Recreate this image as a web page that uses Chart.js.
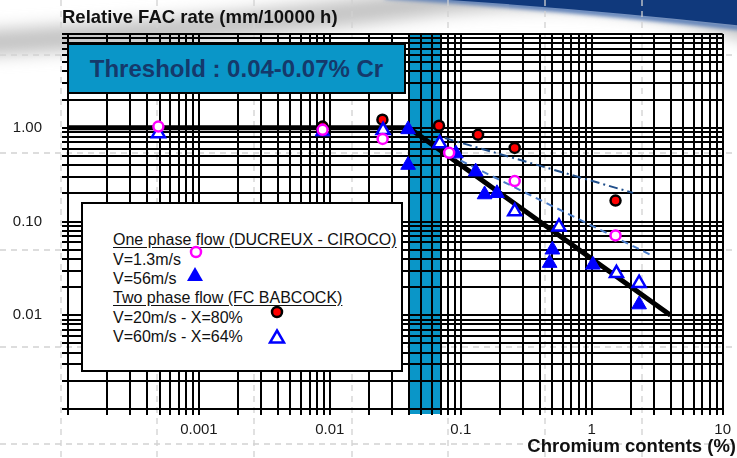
<!DOCTYPE html>
<html>
<head>
<meta charset="utf-8">
<script src="https://cdn.jsdelivr.net/npm/chart.js@4/dist/chart.umd.min.js"></script>
<style>
  html, body { margin: 0; padding: 0; background: #ffffff; }
  #wrap { position: relative; width: 737px; height: 458px; overflow: hidden; font-family: "Liberation Sans", Arial, sans-serif; }
  #bg { position: absolute; left: 0; top: 0; }
  #c { position: absolute; left: 0; top: 0; }
  .ytitle { position: absolute; left: 62px; top: 6px; font-weight: bold; font-size: 18.5px; color: #111; white-space: nowrap; line-height: 22px; }
  .xtitle { position: absolute; right: 1px; top: 435px; font-weight: bold; font-size: 18.5px; color: #111; white-space: nowrap; line-height: 22px; }
  .threshold { position: absolute; left: 67px; top: 43px; width: 335px; height: 47px; background: #0a96c8; border: 2px solid #000;
               display: flex; align-items: center; justify-content: center; font-weight: bold; font-size: 24px; color: #15396b; white-space: nowrap; }
  .legend { position: absolute; left: 81px; top: 202px; width: 318px; height: 166px; background: #fff; border: 2px solid #000; }
  .lg { position: absolute; left: 113px; font-size: 16px; color: #111; white-space: nowrap; line-height: 19px; }
  .lg.h { text-decoration: underline; text-underline-offset: 2px; }
  .mk { position: absolute; }
</style>
</head>
<body>
<div id="wrap">
  <svg id="bg" width="737" height="458" xmlns="http://www.w3.org/2000/svg">
    <defs>
      <filter id="soft" x="-20%" y="-200%" width="140%" height="500%"><feGaussianBlur stdDeviation="8"/></filter>
      <filter id="edge" x="-10%" y="-200%" width="120%" height="500%"><feGaussianBlur stdDeviation="2"/></filter>
    </defs>
    <!-- grey sweep across the top of the slide -->
    <path d="M-30,44 Q220,30 420,4 T770,36" stroke="#c4c4c4" stroke-width="26" fill="none" filter="url(#soft)"/>
    <!-- navy corner band -->
    <path d="M385,-4 Q560,7 745,28" stroke="#4d74b4" stroke-width="5" fill="none" filter="url(#edge)"/>
    <path d="M385,-4 Q560,6 745,26 L745,-4 Z" fill="#10397c"/>
    <!-- faint dashed guide grid of the slide -->
    <g stroke="#d2d2d2" stroke-width="1.3" stroke-dasharray="6 5">
      <line x1="61" y1="0" x2="61" y2="458"/>
      <line x1="157" y1="0" x2="157" y2="458"/>
      <line x1="254" y1="0" x2="254" y2="458"/>
      <line x1="352" y1="0" x2="352" y2="458"/>
      <line x1="448" y1="0" x2="448" y2="458"/>
      <line x1="545" y1="0" x2="545" y2="458"/>
      <line x1="642" y1="0" x2="642" y2="458"/>
      <line x1="0" y1="55" x2="737" y2="55"/>
      <line x1="0" y1="153" x2="737" y2="153"/>
      <line x1="0" y1="250" x2="737" y2="250"/>
      <line x1="0" y1="347" x2="737" y2="347"/>
      <line x1="0" y1="444" x2="737" y2="444"/>
    </g>
  </svg>
  <canvas id="c" width="737" height="458"></canvas>
  <div class="ytitle">Relative FAC rate (mm/10000 h)</div>
  <div class="xtitle">Chromium contents (%)</div>
  <div class="threshold">Threshold : 0.04-0.07% Cr</div>
  <div class="legend"></div>
  <div class="lg h" style="top:230px">One phase flow (DUCREUX - CIROCO)</div>
  <div class="lg" style="top:250px">V=1.3m/s</div>
  <div class="lg" style="top:269px">V=56m/s</div>
  <div class="lg h" style="top:288px">Two phase flow (FC BABCOCK)</div>
  <div class="lg" style="top:308px">V=20m/s - X=80%</div>
  <div class="lg" style="top:327px">V=60m/s - X=64%</div>
  <svg class="mk" style="left:188px;top:244px" width="16" height="16"><circle cx="8" cy="8" r="5" fill="#fff" stroke="#ff00ff" stroke-width="2.5"/></svg>
  <svg class="mk" style="left:186px;top:266px" width="18" height="16"><polygon points="9,1 17,15 1,15" fill="#0000ff"/></svg>
  <svg class="mk" style="left:269px;top:304px" width="16" height="16"><circle cx="8" cy="8" r="5" fill="#ff0000" stroke="#000" stroke-width="2.5"/></svg>
  <svg class="mk" style="left:268px;top:328px" width="18" height="17"><polygon points="9,2.5 16,14.5 2,14.5" fill="#fff" stroke="#0000ff" stroke-width="2.5"/></svg>
</div>
<script>
// Relative FAC rate versus chromium content (log-log)

// One phase flow (DUCREUX - CIROCO), V = 1.3 m/s
const oneV13X = [0.00049, 0.0088, 0.0253, 0.0815, 0.258, 1.52];
const oneV13Y = [1.03, 0.95, 0.76, 0.54, 0.27, 0.071];

// One phase flow, V = 56 m/s
const oneV56X = [0.0088, 0.0396, 0.0396, 0.0917, 0.130, 0.152, 0.189, 0.501, 0.477, 1.02, 2.30];
const oneV56Y = [0.91, 0.96, 0.40, 0.53, 0.34, 0.194, 0.20, 0.050, 0.036, 0.0345, 0.0130];

// Two phase flow (FC BABCOCK), V = 20 m/s, X = 80 %
const twoV20X = [0.0088, 0.0252, 0.0682, 0.1355, 0.258, 1.52];
const twoV20Y = [1.03, 1.22, 1.05, 0.84, 0.61, 0.167];

// Two phase flow, V = 60 m/s, X = 64 %
const twoV60X = [0.00049, 0.0255, 0.069, 0.258, 0.562, 1.545, 2.30];
const twoV60Y = [0.87, 0.94, 0.68, 0.128, 0.088, 0.028, 0.022];

// Trend lines
const fitX = [0.0001, 0.04, 4];
const fitY = [1, 1, 0.01];
const trend20X = [0.0755, 2.07];
const trend20Y = [0.776, 0.202];
const trend13X = [0.0824, 2.94];
const trend13Y = [0.51, 0.0428];

// Threshold range of chromium content (%)
const thresholdRange = [0.04, 0.07];

// Axis ranges, labelled ticks and log-paper rulings
const xRange = [0.0001, 10];
const yRange = [0.001, 10];
const xLabelValues = [0.001, 0.01, 0.1, 1, 10];
const xLabelText = ['0.001', '0.01', '0.1', '1', '10'];
const yLabelValues = [1, 0.1, 0.01];
const yLabelText = ['1.00', '0.10', '0.01'];
const significands = [1, 2, 3, 4, 5, 6, 7, 8, 9];

function rulings(lo, hi) {
  const out = [];
  for (let e = Math.round(Math.log10(lo)); e < Math.round(Math.log10(hi)); e++) {
    significands.forEach(s => out.push(parseFloat((s * Math.pow(10, e)).toPrecision(6))));
  }
  out.push(hi);
  return out;
}
const xRulings = rulings(xRange[0], xRange[1]);
const yRulings = rulings(yRange[0], yRange[1]);

const pts = (xs, ys) => xs.map((x, i) => ({ x, y: ys[i] }));
function labelFor(values, texts) {
  return v => {
    const i = values.findIndex(t => Math.abs(Math.log10(t) - Math.log10(v)) < 1e-6);
    return i >= 0 ? texts[i] : '';
  };
}

const FONT = '"Liberation Sans", Arial, sans-serif';

const thresholdBand = {
  id: 'thresholdBand',
  beforeDraw(chart) {
    const { ctx, chartArea, scales } = chart;
    const x0 = scales.x.getPixelForValue(thresholdRange[0]);
    const x1 = scales.x.getPixelForValue(thresholdRange[1]);
    ctx.save();
    ctx.fillStyle = '#0a96c8';
    ctx.fillRect(x0, chartArea.top, x1 - x0, chartArea.bottom - chartArea.top + 5);
    ctx.restore();
  }
};

new Chart(document.getElementById('c'), {
  type: 'scatter',
  data: {
    datasets: [
      { label: 'V=1.3m/s', data: pts(oneV13X, oneV13Y), order: 1,
        pointStyle: 'circle', pointRadius: 5, borderWidth: 2.5, borderColor: '#ff00ff', backgroundColor: '#ffffff' },
      { label: 'V=60m/s - X=64%', data: pts(twoV60X, twoV60Y), order: 2,
        pointStyle: 'triangle', pointRadius: 7.5, borderWidth: 2.5, borderColor: '#0000ff', backgroundColor: '#ffffff' },
      { label: 'V=56m/s', data: pts(oneV56X, oneV56Y), order: 3,
        pointStyle: 'triangle', pointRadius: 8.5, borderWidth: 1, borderColor: '#0000ff', backgroundColor: '#0000ff' },
      { label: 'V=20m/s - X=80%', data: pts(twoV20X, twoV20Y), order: 4,
        pointStyle: 'circle', pointRadius: 5, borderWidth: 2.5, borderColor: '#000000', backgroundColor: '#ff0000' },
      { label: 'trend 20', data: pts(trend20X, trend20Y), order: 5, showLine: true, pointRadius: 0,
        borderColor: '#1f4e8a', borderWidth: 2, borderDash: [9, 4, 2, 4] },
      { label: 'trend 1.3', data: pts(trend13X, trend13Y), order: 6, showLine: true, pointRadius: 0,
        borderColor: '#4a7cc8', borderWidth: 2, borderDash: [7, 5] },
      { label: 'fit', data: pts(fitX, fitY), order: 7, showLine: true, pointRadius: 0,
        borderColor: '#000000', borderWidth: 5 }
    ]
  },
  options: {
    responsive: false,
    animation: false,
    events: [],
    layout: { padding: { top: 34, right: 14, left: 0, bottom: 0 } },
    plugins: { legend: { display: false }, tooltip: { enabled: false }, title: { display: false } },
    scales: {
      x: {
        type: 'logarithmic', min: xRange[0], max: xRange[1],
        afterBuildTicks: s => { s.ticks = xRulings.map(value => ({ value })); },
        afterFit: s => { s.height = 49; },
        ticks: { autoSkip: false, maxRotation: 0, minRotation: 0, padding: 6, color: '#1a1a1a',
                 font: { family: FONT, size: 15 }, callback: labelFor(xLabelValues, xLabelText) },
        grid: { color: '#000000', lineWidth: 2, tickLength: 6, drawTicks: true },
        border: { color: '#000000', width: 2 }
      },
      y: {
        type: 'logarithmic', min: yRange[0], max: yRange[1],
        afterBuildTicks: s => { s.ticks = yRulings.map(value => ({ value })); },
        afterFit: s => { s.width = 68; },
        ticks: { autoSkip: false, padding: 20, color: '#1a1a1a',
                 font: { family: FONT, size: 15 }, callback: labelFor(yLabelValues, yLabelText) },
        grid: { color: '#000000', lineWidth: 2, tickLength: 6, drawTicks: true },
        border: { color: '#000000', width: 2 }
      }
    }
  },
  plugins: [thresholdBand]
});
</script>
</body>
</html>
